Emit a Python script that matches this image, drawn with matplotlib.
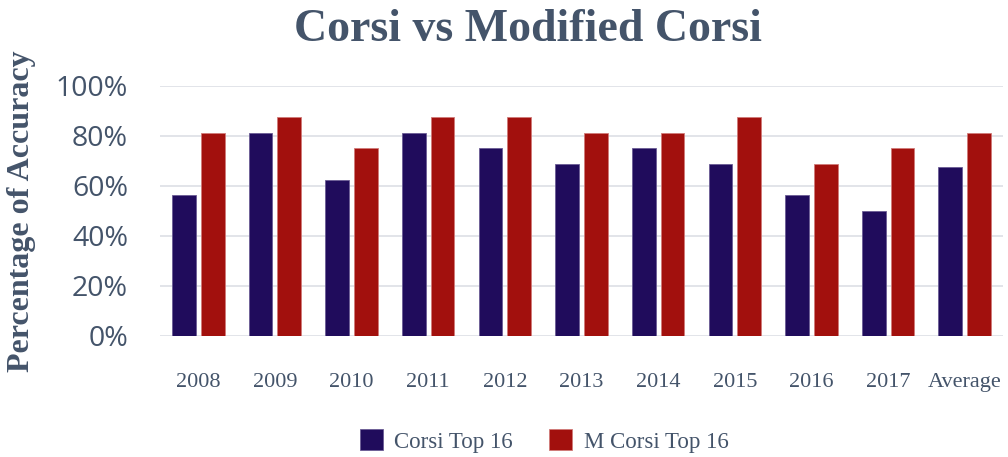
import numpy as np
import matplotlib.pyplot as plt
from matplotlib.ticker import PercentFormatter

categories = ["2008", "2009", "2010", "2011", "2012", "2013", "2014", "2015", "2016", "2017", "Average"]
corsi = [56.25, 81.25, 62.5, 81.25, 75.0, 68.75, 75.0, 68.75, 56.25, 50.0, 67.5]
m_corsi = [81.25, 87.5, 75.0, 87.5, 87.5, 81.25, 81.25, 87.5, 68.75, 75.0, 81.25]
y_ticks = [0, 20, 40, 60, 80, 100]

text_col = "#44546A"

fig = plt.figure(figsize=(10.08, 4.57), dpi=100)
ax = fig.add_axes([160 / 1008, 1 - 335.5 / 457, (1003 - 160) / 1008, 249.5 / 457])

x = np.arange(len(categories))
w = 0.31
gap = 0.065
ax.bar(x - w / 2 - gap / 2, corsi, w, color="#200C5C", edgecolor="#6A5C94", linewidth=0.6,
       label="Corsi Top 16", zorder=3)
ax.bar(x + w / 2 + gap / 2, m_corsi, w, color="#A2100D", edgecolor="#D07A78", linewidth=0.6,
       label="M Corsi Top 16", zorder=3)

ax.set_xlim(-0.5, len(categories) - 0.5)
ax.set_ylim(0, 100)
ax.set_yticks(y_ticks)
ax.yaxis.set_major_formatter(PercentFormatter(decimals=0))
ax.grid(axis="y", color="#DFE2E7", linewidth=1.3, zorder=0)
for s in ax.spines.values():
    s.set_visible(False)
ax.tick_params(length=0)
ax.tick_params(axis="y", labelsize=20.5, labelcolor=text_col, pad=23)
for lab in ax.get_yticklabels():
    lab.set_family("Open Sans")
ax.set_xticks(x)
ax.set_xticklabels(categories, family="Liberation Serif", fontsize=16, color=text_col)
ax.tick_params(axis="x", pad=27)

fig.text(528 / 1008, 1 - 30 / 457, "Corsi vs Modified Corsi", ha="center", va="center",
         family="Liberation Serif", fontweight="bold", fontsize=33, color=text_col)
fig.text(22 / 1008, 1 - 211 / 457, "Percentage of Accuracy", ha="center", va="center", rotation=90,
         family="Liberation Serif", fontweight="bold", fontsize=23, color=text_col)

leg = fig.legend(loc="center", bbox_to_anchor=(544 / 1008, 1 - 441 / 457), ncol=2, frameon=False,
                 prop={"family": "Liberation Serif", "size": 16.5}, handlelength=1.0, handleheight=1.0,
                 columnspacing=1.6, handletextpad=0.5)
for t in leg.get_texts():
    t.set_color(text_col)

fig.savefig("out.png", dpi=100)
